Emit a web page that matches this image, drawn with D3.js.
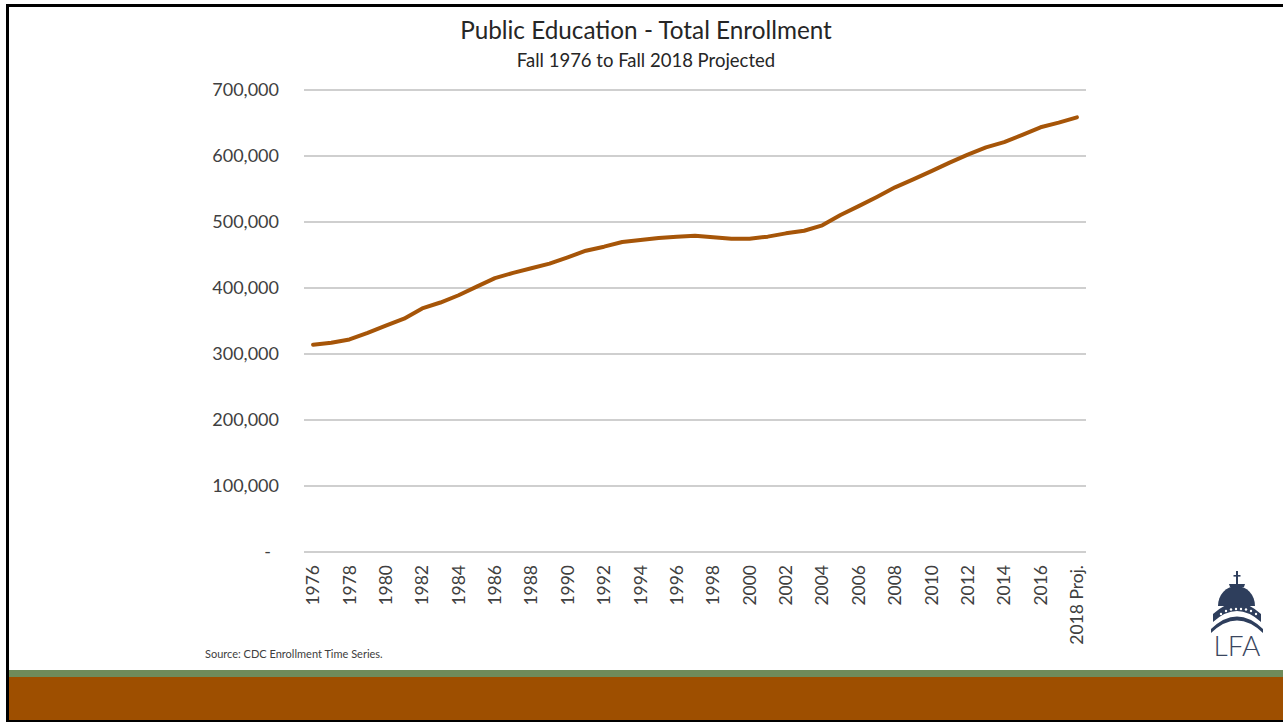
<!DOCTYPE html>
<html><head><meta charset="utf-8">
<script src="https://cdn.jsdelivr.net/npm/d3@7"></script>
<style>html,body{margin:0;padding:0;background:#fff;}svg{display:block;font-family:Lato,"Open Sans",sans-serif;}</style>
</head><body>
<svg id="c" width="1283" height="723"></svg>
<script>
const years = d3.range(1976, 2019).map(String);
const enrollment = [314000,317000,322000,332000,343000,353500,369000,378000,389000,402000,415000,423000,430000,437000,446500,456500,462600,469700,472700,475800,477800,479300,476800,474700,474700,477800,482800,486800,495000,510600,524000,538000,552500,564600,577000,590000,602000,613000,621000,632000,643500,650500,658600];
const xTickLabels = years.map((y,i)=> i%2===0 ? (y==="2018" ? "2018 Proj." : y) : null);
const yTicks = [0,100000,200000,300000,400000,500000,600000,700000];
const title = "Public Education - Total Enrollment";
const subtitle = "Fall 1976 to Fall 2018 Projected";
const source = "Source: CDC Enrollment Time Series.";

const svg = d3.select("#c");
svg.append("rect").attr("x",0).attr("y",0).attr("width",1283).attr("height",723).attr("fill","#fff");
svg.append("rect").attr("x",7.5).attr("y",5.5).attr("width",1290).attr("height",715).attr("fill","none").attr("stroke","#000").attr("stroke-width",3);
svg.append("rect").attr("x",9).attr("y",670).attr("width",1274).attr("height",7).attr("fill","#6F8B5A");
svg.append("rect").attr("x",9).attr("y",677).attr("width",1274).attr("height",43).attr("fill","#9E4F00");

const x = d3.scaleBand().domain(years).range([304,1086]);
const y = d3.scaleLinear().domain([0,700000]).range([552,90]);

svg.append("g").selectAll("line").data(yTicks).join("line")
  .attr("x1",304).attr("x2",1086).attr("y1",d=>y(d)).attr("y2",d=>y(d))
  .attr("stroke","#bfbfbf").attr("stroke-width",1.3);

const yAxis = d3.axisLeft(y).tickValues(yTicks).tickSize(0).tickPadding(25)
  .tickFormat(d=> d===0 ? "-" : d3.format(",")(d));
const gy = svg.append("g").attr("transform","translate(304,0)").call(yAxis);
gy.select(".domain").remove();
gy.selectAll("text").attr("font-size",18).attr("fill","#404040").attr("font-family","Lato,sans-serif")
  .attr("dx", d=> d===0 ? -8 : 0);

const xAxis = d3.axisBottom(x).tickSize(0).tickFormat((d,i)=> xTickLabels[i]);
const gx = svg.append("g").attr("transform","translate(0,552)").call(xAxis);
gx.select(".domain").remove();
gx.selectAll("text").attr("font-size",17.5).attr("fill","#404040").attr("font-family","Lato,sans-serif")
  .attr("transform","rotate(-90)").attr("text-anchor","end")
  .attr("x",-13).attr("y",0).attr("dy","0.35em");

const line = d3.line().x((d,i)=>x(years[i])+x.bandwidth()/2).y(d=>y(d));
svg.append("path").datum(enrollment).attr("d",line).attr("fill","none")
  .attr("stroke","#A65508").attr("stroke-width",4).attr("stroke-linecap","round").attr("stroke-linejoin","round");

svg.append("text").attr("x",646).attr("y",39).attr("text-anchor","middle").attr("font-size",24.3).attr("fill","#262626").text(title);
svg.append("text").attr("x",646).attr("y",67).attr("text-anchor","middle").attr("font-size",18.5).attr("fill","#262626").text(subtitle);
svg.append("text").attr("x",205).attr("y",658).attr("font-size",11).attr("fill","#404040").text(source);

// logo
const lg = svg.append("g").attr("fill","#2E3E5C");
lg.append("rect").attr("x",1236).attr("y",571).attr("width",2).attr("height",14);
lg.append("rect").attr("x",1233.5).attr("y",575).attr("width",7).attr("height",1.6);
lg.append("path").attr("d","M1230,587 L1244,587 L1245,584 L1229,584 Z");
lg.append("path").attr("d","M1218,606 A18.5,20 0 0 1 1255,606 Z");
lg.append("path").attr("d","M1213,622 Q1237,600 1261,622 L1261,614 Q1237,592 1213,614 Z");
lg.append("path").attr("d","M1211,633 Q1237,608 1263,633 L1263,629 Q1237,604 1211,629 Z");
[[1221,613],[1226,610],[1231,608.5],[1236,608],[1241,608],[1246,608.5],[1251,610],[1256,613]].forEach(p=>lg.append("circle").attr("cx",p[0]).attr("cy",p[1]+1).attr("r",1.2).attr("fill","#fff"));
svg.append("text").attr("x",1237).attr("y",656).attr("text-anchor","middle").attr("font-size",28).attr("font-weight",300).attr("fill","#3a4660").attr("font-family","Lato,sans-serif").text("LFA");
</script>
</body></html>
